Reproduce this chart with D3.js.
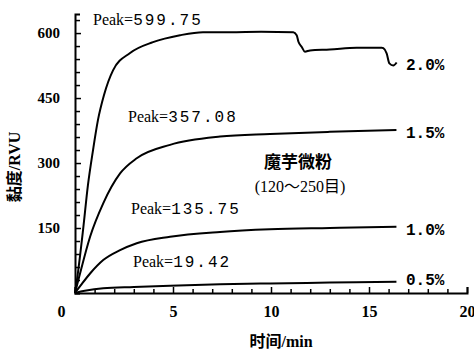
<!DOCTYPE html>
<html>
<head>
<meta charset="utf-8">
<script src="https://cdn.jsdelivr.net/npm/d3@7"></script>
<style>
  html, body { margin: 0; padding: 0; background: #fff; }
  text { fill: #000; }
</style>
</head>
<body>
<svg id="svg" width="474" height="353"></svg>
<script>
// time (min) / viscosity (RVU)
const t20 = [0, 0.1, 0.41, 0.66, 0.92, 1.17, 1.48, 1.94, 2.81, 3.98, 5.36, 6.53, 7.9, 9.5, 11.14, 11.31, 11.4, 11.57, 11.73, 11.99, 13.0, 14.37, 15.65, 15.73, 15.9, 16.04, 16.24, 16.41];
const v20 = [0, 30, 145, 249, 330, 399, 457, 514, 554, 579, 595, 602, 602, 603, 602, 595, 580, 568, 557, 560, 562, 566, 566, 565, 553, 530, 525, 532];

const t15 = [0, 0.2, 0.77, 1.44, 2.3, 3.15, 4.85, 7.4, 9.95, 13.0, 16.4];
const v15 = [0, 35, 130, 207, 276, 311, 342, 361, 367, 372, 376];

const t10 = [0, 0.3, 0.77, 1.44, 2.3, 3.15, 4.85, 7.4, 9.95, 13.0, 16.4];
const v10 = [0, 18, 45, 76, 99, 115, 130, 141, 147, 150, 153];

const t05 = [0, 0.5, 1.44, 3.0, 4.85, 7.4, 9.95, 13.0, 16.4];
const v05 = [0, 5, 11, 14, 17, 20, 22, 24, 26];

const seriesNames = ["2.0%", "1.5%", "1.0%", "0.5%"];
const peakLabels = ["599.75", "357.08", "135.75", "19.42"];

const xTicks = [0, 5, 10, 15, 20];
const yTicks = [150, 300, 450, 600];

let svg = d3.select("#svg");

let xScale = d3.scaleLinear([0, 20], [75, 467]);
let yScale = d3.scaleLinear([0, 644], [293, 14]);

const serif = '"Liberation Serif", "Noto Sans CJK SC"';
const mono = '"Liberation Mono"';
const cjk = '"Noto Sans CJK SC"';

// y axis, ticks pointing inward
let yAxis = d3.axisLeft(yScale)
  .tickValues(d3.range(0, 631, 30))
  .tickSize(-5)
  .tickSizeOuter(-5)
  .tickPadding(15)
  .tickFormat((d) => (yTicks.includes(d) ? d : ""));

let gy = svg.append("g").attr("transform", `translate(${xScale(0)},0)`).call(yAxis);
gy.selectAll("text").style("font-family", serif).style("font-size", "15px").style("font-weight", "bold");
gy.selectAll(".tick line").attr("x2", (d) => (yTicks.includes(d) ? 6 : 5));

// x axis
let xAxis = d3.axisBottom(xScale)
  .tickValues(d3.range(0, 21, 1))
  .tickSize(-4)
  .tickSizeOuter(-6)
  .tickPadding(13)
  .tickFormat((d) => (xTicks.includes(d) ? d : ""));

let gx = svg.append("g").attr("transform", `translate(0,${yScale(0)})`).call(xAxis);
gx.selectAll("text").style("font-family", serif).style("font-size", "16px").style("font-weight", "bold");
gx.selectAll(".tick line").attr("y2", (d) => (d % 5 == 0 ? -6 : -4));
gx.selectAll(".tick").filter((d) => d == 0).select("text").attr("dx", -14);

svg.selectAll(".domain").attr("stroke-width", 2);
svg.selectAll(".tick line").attr("stroke-width", 1.5);

// curves
let lineFunc = d3
  .line()
  .x((d) => xScale(d[0]))
  .y((d) => yScale(d[1]))
  .curve(d3.curveMonotoneX);

const allSeries = [
  d3.zip(t20, v20),
  d3.zip(t15, v15),
  d3.zip(t10, v10),
  d3.zip(t05, v05),
];

svg
  .selectAll("path.curve")
  .data(allSeries)
  .join("path")
  .attr("class", "curve")
  .attr("fill", "none")
  .attr("stroke", "black")
  .attr("stroke-width", 2)
  .attr("d", lineFunc);

// concentration labels at line ends
const endY = [70, 138, 235, 285];
svg
  .selectAll("text.conc")
  .data(seriesNames)
  .join("text")
  .attr("class", "conc")
  .attr("x", 406)
  .attr("y", (d, i) => endY[i])
  .style("font-family", mono)
  .style("font-size", "16px")
  .style("font-weight", "bold")
  .text((d) => d);

// peak labels
const peakPos = [[93, 25], [128, 122], [131, 214], [133, 267]];
let peaks = svg
  .selectAll("text.peak")
  .data(peakLabels)
  .join("text")
  .attr("class", "peak")
  .attr("x", (d, i) => peakPos[i][0])
  .attr("y", (d, i) => peakPos[i][1])
  .style("font-family", serif)
  .style("font-size", "16px");
peaks.append("tspan").text("Peak=");
peaks.append("tspan").style("font-family", mono).attr("letter-spacing", 2).text((d) => d);

// annotation
svg.append("text")
  .attr("x", 298)
  .attr("y", 168)
  .attr("text-anchor", "middle")
  .style("font-family", cjk)
  .style("font-weight", "bold")
  .style("font-size", "17px")
  .text("魔芋微粉");

svg.append("text")
  .attr("x", 300)
  .attr("y", 192)
  .attr("text-anchor", "middle")
  .style("font-family", serif)
  .style("font-size", "16px")
  .text("(120～250目)");

// axis titles
svg.append("text")
  .attr("x", 281)
  .attr("y", 347)
  .attr("text-anchor", "middle")
  .style("font-family", serif)
  .style("font-weight", "bold")
  .style("font-size", "16px")
  .text("时间/min");

svg.append("text")
  .attr("transform", "translate(20,167) rotate(-90)")
  .attr("text-anchor", "middle")
  .style("font-family", serif)
  .style("font-weight", "bold")
  .style("font-size", "16px")
  .text("黏度/RVU");
</script>
</body>
</html>
